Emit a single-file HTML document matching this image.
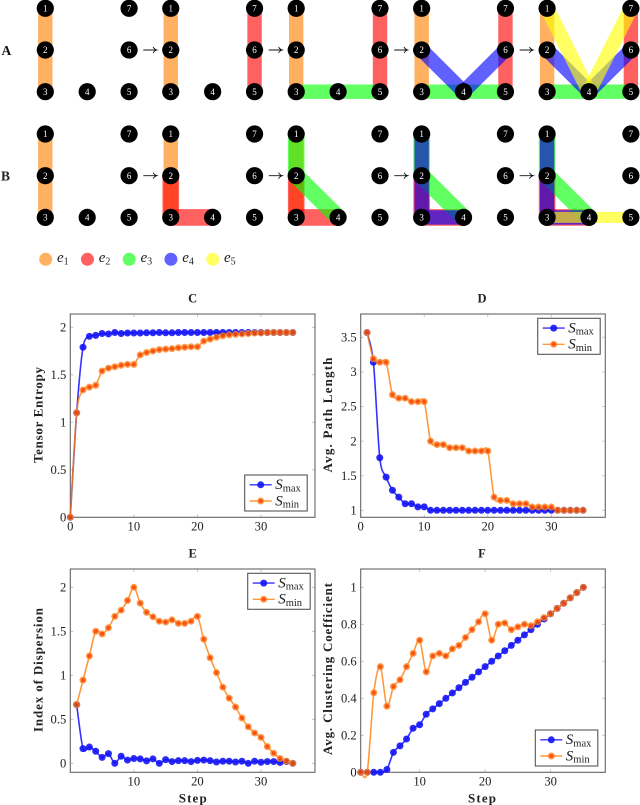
<!DOCTYPE html>
<html lang="en">
<head>
<meta charset="utf-8">
<title>Hypergraph metrics figure</title>
<style>
html,body{margin:0;padding:0;background:#fff;width:640px;height:805px;overflow:hidden}
svg{display:block;position:absolute;left:0;top:0;filter:blur(0.3px)}
text{font-family:"Liberation Serif",serif}
</style>
</head>
<body>
<svg id="fig" xmlns="http://www.w3.org/2000/svg" width="640" height="805" viewBox="0 0 640 805">
  <rect width="640" height="805" fill="#fff"/>
  <g id="diagram"></g>
  <g id="charts"></g>
</svg>
<script>
/* ---------- chart data ---------- */
const xTicksFromZero = [0, 10, 20, 30];
const xTicksFromTen = [10, 20, 30];

const stepsC = [0,1,2,3,4,5,6,7,8,9,10,11,12,13,14,15,16,17,18,19,20,21,22,23,24,25,26,27,28,29,30,31,32,33,34,35];
const entropyMax = [0,1.1,1.79,1.905,1.915,1.935,1.93,1.945,1.935,1.94,1.94,1.94,1.942,1.942,1.945,1.942,1.942,1.945,1.945,1.945,1.945,1.945,1.945,1.945,1.945,1.945,1.945,1.945,1.945,1.945,1.945,1.945,1.945,1.945,1.945,1.945];
const entropyMin = [0,1.1,1.34,1.37,1.39,1.54,1.57,1.585,1.6,1.61,1.61,1.71,1.735,1.75,1.765,1.77,1.775,1.785,1.79,1.795,1.795,1.855,1.875,1.895,1.91,1.92,1.925,1.93,1.935,1.94,1.94,1.945,1.945,1.945,1.945,1.945];
const yTicksC = [0,0.5,1,1.5,2];

const steps = [1,2,3,4,5,6,7,8,9,10,11,12,13,14,15,16,17,18,19,20,21,22,23,24,25,26,27,28,29,30,31,32,33,34,35];
const pathMax = [3.57,3.14,1.76,1.48,1.29,1.19,1.095,1.095,1.05,1.05,1,1,1,1,1,1,1,1,1,1,1,1,1,1,1,1,1,1,1,1,1,1,1,1,1];
const pathMin = [3.57,3.19,3.14,3.14,2.67,2.62,2.62,2.57,2.57,2.57,2.0,1.95,1.95,1.905,1.905,1.905,1.857,1.857,1.857,1.857,1.19,1.143,1.143,1.095,1.095,1.095,1.048,1.048,1.048,1.048,1,1,1,1,1];
const yTicksD = [1,1.5,2,2.5,3,3.5];

const dispersionMax = [0.667,0.167,0.185,0.137,0.067,0.11,0,0.08,0.037,0.055,0.05,0.028,0.05,0,0.042,0.02,0.03,0.03,0.02,0.033,0.037,0.03,0.015,0.024,0.024,0.015,0.024,0,0.024,0.012,0.02,0.02,0.01,0.02,0];
const dispersionMin = [0.667,0.945,1.22,1.5,1.47,1.54,1.67,1.74,1.85,2.0,1.82,1.715,1.665,1.615,1.605,1.63,1.59,1.59,1.615,1.67,1.41,1.2,1.03,0.865,0.74,0.64,0.515,0.415,0.345,0.295,0.19,0.115,0.055,0.025,0];
const yTicksE = [0,0.5,1,1.5,2];

const clusteringMax = [0,0,0,0,0.015,0.108,0.143,0.18,0.238,0.257,0.314,0.343,0.371,0.4,0.429,0.457,0.486,0.514,0.543,0.571,0.6,0.629,0.657,0.686,0.714,0.743,0.771,0.8,0.829,0.857,0.886,0.914,0.943,0.971,1];
const clusteringMin = [0,0,0.43,0.571,0.357,0.464,0.5,0.571,0.643,0.714,0.543,0.629,0.643,0.629,0.667,0.686,0.729,0.771,0.814,0.857,0.714,0.8,0.807,0.771,0.786,0.8,0.793,0.814,0.836,0.857,0.886,0.914,0.943,0.971,1];
const yTicksF = [0,0.2,0.4,0.6,0.8,1];

/* ---------- diagram data (node ids only) ---------- */
const e1 = [[1,2],[2,3]];
const e2A = [[5,6],[6,7]];
const e3A = [[3,4],[4,5]];
const e4A = [[2,4],[4,6]];
const e5A = [[1,4],[4,7]];
const e2B = [[2,3],[3,4]];
const e3B = [[1,2],[2,4]];
const e4B = [[1,2],[2,3],[3,4]];
const e5B = [[3,4],[4,5]];

const SVGNS = 'http://www.w3.org/2000/svg';
function mk(parent, tag, attrs, txt) {
  const el = document.createElementNS(SVGNS, tag);
  for (const k in attrs) el.setAttribute(k, attrs[k]);
  if (txt !== undefined) el.textContent = txt;
  parent.appendChild(el);
  return el;
}

/* ---------- hypergraph diagram ---------- */
const diagram = document.getElementById('diagram');
const edgeColors = {e1:'#ff7f00', e2:'#ff0000', e3:'#00ff00', e4:'#0000ff', e5:'#ffff00'};
function nodePos(panel, rowTop, id) {
  const x0 = 45.3 + panel * 125.45;
  const col = (id <= 3) ? 0 : (id === 4 ? 1 : 2);
  const row = (id === 1 || id === 7) ? 0 : ((id === 2 || id === 6) ? 1 : 2);
  return [x0 + col * 41.9, rowTop + row * 41.7];
}
function drawBand(panel, rowTop, segs, color, width, op) {
  const g = mk(diagram, 'g', {});
  
  
  segs.forEach(function (s) {
    const a = nodePos(panel, rowTop, s[0]);
    const b = nodePos(panel, rowTop, s[1]);
    const ln = mk(g, 'line', {x1:a[0], y1:a[1], x2:b[0], y2:b[1], stroke:edgeColors[color], 'stroke-width':width, 'stroke-opacity':op});
    
    
  });
}
function drawNodes(panel, rowTop, rowName) {
  for (let id = 1; id <= 7; id++) {
    const p = nodePos(panel, rowTop, id);
    const c = mk(diagram, 'circle', {cx:p[0], cy:p[1], r:8.6, fill:'#000'});
    
    
    const t = mk(diagram, 'text', {x:p[0], y:p[1] + 3.1, 'text-anchor':'middle', 'font-size':9, fill:'#fff'}, String(id));
    
    
  }
}
const OP = 0.62;
const bandsA = [
  [[e1,'e1']],
  [[e1,'e1'],[e2A,'e2']],
  [[e1,'e1'],[e2A,'e2'],[e3A,'e3']],
  [[e1,'e1'],[e2A,'e2'],[e3A,'e3'],[e4A,'e4']],
  [[e1,'e1'],[e2A,'e2'],[e3A,'e3'],[e4A,'e4'],[e5A,'e5']]
];
bandsA.forEach(function (list, p) {
  list.forEach(function (b) { drawBand(p, 8.3, b[0], b[1], 14.4, OP); });
  drawNodes(p, 8.3, 'a');
});
const wB = {e1:14.4, e2:16.6, e3:16.6, e4:14.4, e5:11};
const bandsB = [
  [[e1,'e1']],
  [[e1,'e1'],[e2B,'e2']],
  [[e1,'e1'],[e2B,'e2'],[e3B,'e3']],
  [[e1,'e1'],[e2B,'e2'],[e3B,'e3'],[e4B,'e4']],
  [[e1,'e1'],[e2B,'e2'],[e3B,'e3'],[e4B,'e4'],[e5B,'e5']]
];
bandsB.forEach(function (list, p) {
  list.forEach(function (b) { drawBand(p, 134, b[0], b[1], wB[b[1]], OP); });
  drawNodes(p, 134, 'b');
});
[0,1,2,3].forEach(function (i) {
  [50, 175.7].forEach(function (y) {
    const x = 143.3 + i * 125.45;
    const a = mk(diagram, 'path', {d:'M' + x + ' ' + y + 'H' + (x + 13.4) + 'M' + (x + 9.8) + ' ' + (y - 3) + 'Q' + (x + 11) + ' ' + (y - 0.7) + ' ' + (x + 13.6) + ' ' + y + 'Q' + (x + 11) + ' ' + (y + 0.7) + ' ' + (x + 9.8) + ' ' + (y + 3), fill:'none', stroke:'#111', 'stroke-width':0.9});
    
    
  });
});
const rowA = mk(diagram, 'text', {x:1.5, y:55, 'font-size':13.5, 'font-weight':'bold', fill:'#111'}, 'A');


const rowB = mk(diagram, 'text', {x:1, y:180.5, 'font-size':13.5, 'font-weight':'bold', fill:'#222'}, 'B');



['e1','e2','e3','e4','e5'].forEach(function (name, i) {
  const x = 45.7 + i * 41.75;
  const c = mk(diagram, 'circle', {cx:x, cy:259.3, r:6.5, fill:edgeColors[name], 'fill-opacity':OP});
  
  
  const t = mk(diagram, 'text', {x:x + 11.3, y:261.8, 'font-size':15, 'font-style':'italic', fill:'#222'}, 'e');
  
  
  mk(t, 'tspan', {dy:2.5, 'font-size':10, 'font-style':'normal'}, String(i + 1));
});

/* ---------- charts ---------- */
const charts = document.getElementById('charts');
function smoothPath(pts) {
  const k = 0.15;
  let d = 'M' + pts[0][0] + ' ' + pts[0][1];
  for (let i = 0; i < pts.length - 1; i++) {
    const p0 = pts[Math.max(i - 1, 0)], p1 = pts[i], p2 = pts[i + 1], p3 = pts[Math.min(i + 2, pts.length - 1)];
    d += 'C' + (p1[0] + (p2[0] - p0[0]) * k) + ' ' + (p1[1] + (p2[1] - p0[1]) * k) + ' ' +
         (p2[0] - (p3[0] - p1[0]) * k) + ' ' + (p2[1] - (p3[1] - p1[1]) * k) + ' ' + p2[0] + ' ' + p2[1];
  }
  return d;
}
function marker(g, x, y, kind) {
  if (kind === 'max') {
    const m = mk(g, 'circle', {cx:x, cy:y, r:3.5, fill:'#1414f5', 'fill-opacity':0.9});
    
    
  } else {
    const m = mk(g, 'circle', {cx:x, cy:y, r:3.5, fill:'#ff8420', 'fill-opacity':0.82});
    
    
    const c = mk(g, 'circle', {cx:x, cy:y, r:2, fill:'#f89068', style:'mix-blend-mode:multiply'});
    
    
  }
}
function drawSeries(g, xs, ys, X, Y, kind) {
  const color = kind === 'max' ? '#0000ff' : '#ff7f0e';
  const pts = xs.map(function (v, i) { return [X(v), Y(ys[i])]; });
  const line = mk(g, 'path', {d:smoothPath(pts), fill:'none', stroke:color, 'stroke-width':1.6, 'stroke-opacity':0.8});
  
  
  pts.forEach(function (p) { marker(g, p[0], p[1], kind); });
}
function legendRow(g, x, y, kind) {
  const color = kind === 'max' ? '#0000ff' : '#ff7f0e';
  const l = mk(g, 'line', {x1:x + 5, y1:y, x2:x + 27, y2:y, stroke:color, 'stroke-width':1.4, 'stroke-opacity':0.8});
  
  
  marker(g, x + 16, y, kind);
  const t = mk(g, 'text', {x:x + 30.5, y:y + 4.3, 'font-size':15, 'font-style':'italic', fill:'#222'}, 'S');
  
  
  mk(t, 'tspan', {dy:2.2, 'font-size':10.5, 'font-style':'normal'}, kind);
}
function drawChart(o) {
  const g = mk(charts, 'g', {});
  
  
  const X = function (v) { return o.left + (v - o.xMin) * (o.right - o.left) / (o.xMax - o.xMin); };
  const Y = function (v) { return o.bottom - (v - o.yMin) * (o.bottom - o.top) / (o.yMax - o.yMin); };

  o.xTicks.forEach(function (v) {
    const x = X(v);
    const t1 = mk(g, 'path', {d:'M' + x + ' ' + o.bottom + 'v-3M' + x + ' ' + o.top + 'v3', stroke:'#bdbdbd', 'stroke-width':0.8, fill:'none'});
    
    
    const lb = mk(g, 'text', {x:x, y:o.bottom + 13, 'text-anchor':'middle', 'font-size':12.6, fill:'#222'}, String(v));
    
    
  });
  o.yTicks.forEach(function (v) {
    const y = Y(v);
    const t2 = mk(g, 'path', {d:'M' + o.left + ' ' + y + 'h3M' + o.right + ' ' + y + 'h-3', stroke:'#bdbdbd', 'stroke-width':0.8, fill:'none'});
    
    
    const lb = mk(g, 'text', {x:o.left - 4, y:y + 4.2, 'text-anchor':'end', 'font-size':12.6, fill:'#222'}, String(v));
    
    
  });
  const frame = mk(g, 'rect', {x:o.left, y:o.top, width:o.right - o.left, height:o.bottom - o.top, fill:'none', stroke:'#666', 'stroke-width':1.1});
  
  

  drawSeries(g, o.xs, o.max, X, Y, 'max');
  drawSeries(g, o.xs, o.min, X, Y, 'min');

  const title = mk(g, 'text', {x:o.titleX, y:o.top - 11.7, 'text-anchor':'middle', 'font-size':12.5, 'font-weight':'bold', fill:'#222'}, o.title);
  
  
  const yl = mk(g, 'text', {x:0, y:0, transform:'translate(' + o.yLabelX + ' ' + o.yLabelY + ') rotate(-90)', 'text-anchor':'middle', 'font-size':13, 'font-weight':'bold', fill:'#222', textLength:o.yLabelLen, lengthAdjust:'spacing'}, o.yLabel);
  
  
  if (o.xLabel) {
    const xl = mk(g, 'text', {x:o.titleX, y:o.bottom + 30, 'text-anchor':'middle', 'font-size':13, 'font-weight':'bold', fill:'#222', textLength:28, lengthAdjust:'spacing'}, o.xLabel);
    
    
  }
  const lg = mk(g, 'g', {});
  
  
  const box = mk(lg, 'rect', {x:o.legX, y:o.legY, width:62.5, height:36, fill:'#fff', stroke:'#555', 'stroke-width':1.1});
  
  
  legendRow(lg, o.legX, o.legY + 9.8, 'max');
  legendRow(lg, o.legX, o.legY + 26, 'min');
}
drawChart({title:'C', titleX:192.7, left:70.3, right:315, top:314, bottom:517.3, xMin:0, xMax:38.5, yMin:0, yMax:2.14,
  xTicks:xTicksFromZero, yTicks:yTicksC, xs:stepsC, max:entropyMax, min:entropyMin,
  yLabel:'Tensor Entropy', yLabelLen:96, yLabelX:42.7, yLabelY:415, legX:244.7, legY:475});
drawChart({title:'D', titleX:482, left:360.7, right:605.3, top:314, bottom:517.3, xMin:0, xMax:38.5, yMin:0.899, yMax:3.837,
  xTicks:xTicksFromZero, yTicks:yTicksD, xs:steps, max:pathMax, min:pathMin,
  yLabel:'Avg. Path Length', yLabelLen:115, yLabelX:332, yLabelY:415, legX:537.7, legY:318.3});
drawChart({title:'E', titleX:192.7, left:70.3, right:315, top:569, bottom:772.3, xMin:0, xMax:38.5, yMin:-0.102, yMax:2.208,
  xTicks:xTicksFromTen, yTicks:yTicksE, xs:steps, max:dispersionMax, min:dispersionMin,
  yLabel:'Index of Dispersion', yLabelLen:124, yLabelX:42.7, yLabelY:670, legX:247.7, legY:573.3, xLabel:'Step'});
drawChart({title:'F', titleX:482, left:360.7, right:605.3, top:569, bottom:772.3, xMin:1, xMax:38.35, yMin:0, yMax:1.099,
  xTicks:xTicksFromTen, yTicks:yTicksF, xs:steps, max:clusteringMax, min:clusteringMin,
  yLabel:'Avg. Clustering Coefficient', yLabelLen:172, yLabelX:332, yLabelY:669, legX:535.3, legY:730, xLabel:'Step'});
</script>
</body>
</html>
